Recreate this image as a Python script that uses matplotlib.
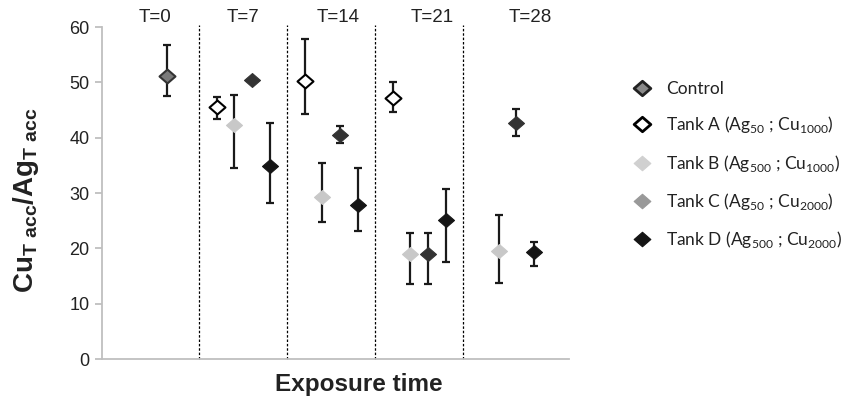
import matplotlib
matplotlib.use("Agg")
import matplotlib.pyplot as plt
from matplotlib.lines import Line2D
from matplotlib.path import Path
import numpy as np

periods = ["T=0", "T=7", "T=14", "T=21", "T=28"]
series = ["Control", "Tank A", "Tank B", "Tank C", "Tank D"]
labels = ["Control",
          r"Tank A (Ag$_\mathregular{50}$ ; Cu$_\mathregular{1000}$)",
          r"Tank B (Ag$_\mathregular{500}$ ; Cu$_\mathregular{1000}$)",
          r"Tank C (Ag$_\mathregular{50}$ ; Cu$_\mathregular{2000}$)",
          r"Tank D (Ag$_\mathregular{500}$ ; Cu$_\mathregular{2000}$)"]

# values per period (None = missing): mean, lower, upper
control_mean = [51.1, None, None, None, None]
control_lo = [47.6, None, None, None, None]
control_hi = [56.7, None, None, None, None]

tankA_mean = [None, 45.6, 50.2, 47.2, None]
tankA_lo = [None, 43.4, 44.3, 44.6, None]
tankA_hi = [None, 47.4, 57.8, 50.0, None]

tankB_mean = [None, 42.2, 29.3, 18.9, 19.6]
tankB_lo = [None, 34.6, 24.8, 13.5, 13.7]
tankB_hi = [None, 47.8, 35.5, 22.7, 26.1]

tankC_mean = [None, 50.5, 40.4, 18.9, 42.7]
tankC_lo = [None, 50.5, 39.1, 13.5, 40.3]
tankC_hi = [None, 50.5, 42.1, 22.7, 45.1]

tankD_mean = [None, 34.8, 27.9, 25.1, 19.3]
tankD_lo = [None, 28.2, 23.1, 17.6, 16.8]
tankD_hi = [None, 42.7, 34.5, 30.8, 21.1]

offsets = [0.63, 0.2, 0.4, 0.6, 0.8]
face = ["#7a7a7a", "white", "#c8c8c8", "#333333", "#151515"]
edge = ["#333333", "black", "#c8c8c8", "#333333", "#151515"]
leg_face = ["#8a8a8a", "white", "#d0d0d0", "#999999", "#151515"]
leg_edge = ["#222222", "black", "#d0d0d0", "#999999", "#151515"]

data = [(control_mean, control_lo, control_hi),
        (tankA_mean, tankA_lo, tankA_hi),
        (tankB_mean, tankB_lo, tankB_hi),
        (tankC_mean, tankC_lo, tankC_hi),
        (tankD_mean, tankD_lo, tankD_hi)]

wide_diamond = Path([(-1.15, 0), (0, 1), (1.15, 0), (0, -1), (-1.15, 0)],
                    [Path.MOVETO, Path.LINETO, Path.LINETO, Path.LINETO, Path.CLOSEPOLY])

plt.rcParams['font.family'] = ['Liberation Sans', 'DejaVu Sans']
fig = plt.figure(figsize=(8.5, 3.98), dpi=100)
ax = fig.add_axes([102/850, 1 - 359/398, (569-102)/850, (359-27)/398])

for si, (m, lo, hi) in enumerate(data):
    xs, ys, el, eh = [], [], [], []
    for p in range(len(periods)):
        if m[p] is None:
            continue
        xs.append(p + offsets[si])
        ys.append(m[p])
        el.append(m[p] - lo[p])
        eh.append(hi[p] - m[p])
    ax.errorbar(xs, ys, yerr=[el, eh], fmt='none', ecolor='#1a1a1a',
                elinewidth=1.6, capsize=3, capthick=1.6, zorder=2)
    ax.plot(xs, ys, linestyle='none', marker=wide_diamond, markersize=11.5,
            markerfacecolor=face[si], markeredgecolor=edge[si],
            markeredgewidth=1.5 if si in (0, 1) else 0.8, zorder=3)

for d in range(1, len(periods)):
    ax.axvline(d, ymin=0, ymax=1.005, color='black', linestyle=(0, (2, 1.5)),
               linewidth=0.9, clip_on=False)

label_x = [0.5, 1.5, 2.58, 3.65, 4.76]
for p, t in enumerate(periods):
    ax.text(label_x[p], 61.8, t, ha='center', va='center', fontsize=13.5, color='#222222')

ax.set_xlim(-0.103, 5.2)
ax.set_ylim(0, 60)
ax.set_yticks(np.arange(0, 61, 10))
ax.set_xticks([])
for s in ['top', 'right']:
    ax.spines[s].set_visible(False)
ax.spines['left'].set_color('#bfbfbf')
ax.spines['bottom'].set_color('#bfbfbf')
ax.spines['left'].set_linewidth(1.3)
ax.spines['bottom'].set_linewidth(1.3)
ax.tick_params(axis='y', colors='#bfbfbf', labelcolor='#222222', labelsize=13,
               length=5, width=1.3, direction='out', pad=4)

fig.text(359/850, 1 - 385/398, "Exposure time", ha='center', va='center',
         fontsize=17.5, fontweight='bold', color='#222222')
fig.text(26/850, 1 - 200/398, r"Cu$_\mathregular{T\ acc}$/Ag$_\mathregular{T\ acc}$",
         rotation=90, ha='center', va='center', fontsize=20, fontweight='bold',
         color='#222222')

handles = [Line2D([], [], linestyle='none', marker=wide_diamond, markersize=12,
                  markerfacecolor=leg_face[i], markeredgecolor=leg_edge[i],
                  markeredgewidth=2.0 if i in (0, 1) else 0.8) for i in range(5)]
leg = fig.legend(handles, labels, loc='upper left', bbox_to_anchor=(623/850, 1 - 74/398),
                 frameon=False, labelspacing=1.0, handletextpad=0.7,
                 handlelength=1.4, borderaxespad=0,
                 prop={'family': ['Lato', 'DejaVu Sans'], 'size': 12.5})
for t in leg.get_texts():
    t.set_color('#222222')

fig.savefig("out.png", dpi=100)
